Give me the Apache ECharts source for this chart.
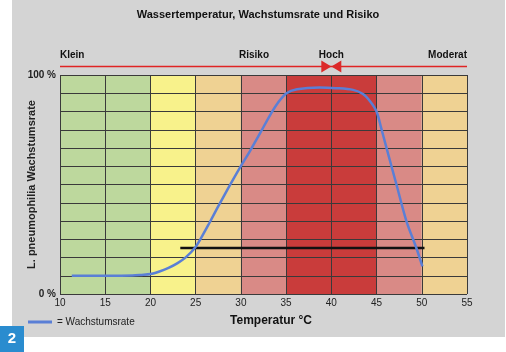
<!DOCTYPE html>
<html>
<head>
<meta charset="utf-8">
<script src="https://cdn.jsdelivr.net/npm/echarts@6/dist/echarts.min.js"></script>
<style>
  html, body { margin: 0; padding: 0; background: #fff; }
  #main { width: 506px; height: 352px; }
</style>
</head>
<body>
<div id="main"></div>
<script>
// Temperatur-Bereiche (°C) und ihre Risikofarben
var bandEdges = [10, 20, 25, 30, 35, 45, 50, 55];
var bandColors = ['#bdd89d', '#f8f28b', '#efd293', '#d98a86', '#c93c3b', '#d98a86', '#efd293'];

// Wachstumsrate (Temperatur °C, Prozent)
var growthTemp = [11.3, 15, 18, 19, 20, 21, 22, 23, 23.9, 24.9, 25.7, 26.5, 27.4, 28.6, 29.8, 31.05, 32.2, 33.2, 34.1, 35, 36.2, 38.7, 40.5, 42.4, 43.5, 44.3, 45, 45.5, 46.1, 47.2, 48.3, 49.4, 50.07];
var growthPct  = [8.3, 8.3, 8.4, 8.7, 9.1, 10.3, 11.9, 14.1, 16.7, 21, 26.3, 32.3, 39.3, 48.3, 57, 65.6, 74, 81.5, 87.3, 91.6, 93.5, 94.3, 94.0, 93.2, 91.3, 87.9, 83.3, 76, 66.7, 50, 33.3, 21, 12.6];

// schwarze Linie
var blackTemp = [23.3, 50.3];
var blackPct = [21, 21];

var xTicks = [10, 15, 20, 25, 30, 35, 40, 45, 50, 55];
var riskLabels = ['Klein', 'Risiko', 'Hoch', 'Moderat'];

var ROWS = 12; // 12 Rasterzeilen = 100 %
var toRows = function (p) { return p * ROWS / 100; };

var font = '"Liberation Sans", Arial, Helvetica, sans-serif';

var bands = [];
for (var i = 0; i < bandColors.length; i++) {
  bands.push([{ xAxis: bandEdges[i], itemStyle: { color: bandColors[i] } }, { xAxis: bandEdges[i + 1] }]);
}

var chart = echarts.init(document.getElementById('main'));

var option = {
  animation: false,
  backgroundColor: '#ffffff',
  textStyle: { fontFamily: font },
  grid: { left: 60, right: 39, top: 75, bottom: 58, outerBoundsMode: 'none' },
  legend: {
    left: 28, top: 317, padding: 0,
    icon: 'rect', itemWidth: 24, itemHeight: 3, itemGap: 4,
    data: ['Wachstumsrate'],
    formatter: '= {name}',
    textStyle: { fontFamily: font, fontSize: 10, color: '#222' }
  },
  xAxis: {
    type: 'value', min: xTicks[0], max: xTicks[xTicks.length - 1], interval: 5, z: 3,
    axisLine: { show: false }, axisTick: { show: false },
    axisLabel: { margin: 4, fontSize: 10, color: '#222', fontFamily: font },
    splitLine: { show: true, lineStyle: { color: '#3a3a3a', width: 1 } }
  },
  yAxis: {
    type: 'value', min: 0, max: ROWS, interval: 1, z: 3,
    name: 'L. pneumophilia Wachstumsrate', nameLocation: 'middle', nameGap: 23, nameRotate: 90,
    nameMoveOverlap: false,
    nameTextStyle: { fontSize: 11, fontWeight: 'bold', color: '#222', fontFamily: font },
    axisLine: { show: false }, axisTick: { show: false },
    axisLabel: {
      margin: 4, fontSize: 10, fontWeight: 'bold', color: '#222', fontFamily: font,
      formatter: function (v) { return v === 0 ? '0 %' : (v === ROWS ? '100 %' : ''); }
    },
    splitLine: { show: true, lineStyle: { color: '#3a3a3a', width: 1 } }
  },
  series: [
    {
      name: 'bands', type: 'line', data: [], z: 1, silent: true,
      markArea: { silent: true, data: bands }
    },
    {
      name: 'schwarz', type: 'line', z: 5, symbol: 'none',
      lineStyle: { color: '#111', width: 2.5 },
      data: blackTemp.map(function (t, i) { return [t, toRows(blackPct[i])]; })
    },
    {
      name: 'Wachstumsrate', type: 'line', z: 6, symbol: 'none', smooth: 0.3,
      color: '#5a7fd6',
      lineStyle: { color: '#5a7fd6', width: 2.5 },
      data: growthTemp.map(function (t, i) { return [t, toRows(growthPct[i])]; })
    }
  ]
};

chart.setOption(option);

var x0 = chart.convertToPixel({ xAxisIndex: 0 }, 10);
var x1 = chart.convertToPixel({ xAxisIndex: 0 }, 55);
var tip = chart.convertToPixel({ xAxisIndex: 0 }, 40);
var riskY = 66.5;

chart.setOption({
  graphic: [
    { type: 'rect', z: -10, shape: { x: 12, y: 0, width: 493, height: 337 }, style: { fill: '#d4d4d4' } },
    { type: 'text', x: 258, y: 15, style: { text: 'Wassertemperatur, Wachstumsrate und Risiko', font: 'bold 11px ' + font, fill: '#111', textAlign: 'center', textVerticalAlign: 'middle' } },
    { type: 'line', shape: { x1: x0, y1: riskY, x2: x1, y2: riskY }, style: { stroke: '#e02424', lineWidth: 1.5 } },
    { type: 'polygon', shape: { points: [[tip - 10, riskY - 6], [tip - 10, riskY + 6], [tip, riskY]] }, style: { fill: '#dc2a2a' } },
    { type: 'polygon', shape: { points: [[tip + 10, riskY - 6], [tip + 10, riskY + 6], [tip, riskY]] }, style: { fill: '#dc2a2a' } },
    { type: 'text', x: x0, y: 55, style: { text: riskLabels[0], font: 'bold 10px ' + font, fill: '#111', textAlign: 'left', textVerticalAlign: 'middle' } },
    { type: 'text', x: 254, y: 55, style: { text: riskLabels[1], font: 'bold 10px ' + font, fill: '#111', textAlign: 'center', textVerticalAlign: 'middle' } },
    { type: 'text', x: tip, y: 55, style: { text: riskLabels[2], font: 'bold 10px ' + font, fill: '#111', textAlign: 'center', textVerticalAlign: 'middle' } },
    { type: 'text', x: x1, y: 55, style: { text: riskLabels[3], font: 'bold 10px ' + font, fill: '#111', textAlign: 'right', textVerticalAlign: 'middle' } },
    { type: 'text', x: 271, y: 321, style: { text: 'Temperatur °C', font: 'bold 12px ' + font, fill: '#111', textAlign: 'center', textVerticalAlign: 'middle' } },
    { type: 'rect', shape: { x: 0, y: 326, width: 24, height: 26 }, style: { fill: '#2a8ccf' } },
    { type: 'text', x: 12, y: 339, style: { text: '2', font: 'bold 15px ' + font, fill: '#fff', textAlign: 'center', textVerticalAlign: 'middle' } }
  ]
});

window.onresize = function () { chart.resize(); };
</script>
</body>
</html>
